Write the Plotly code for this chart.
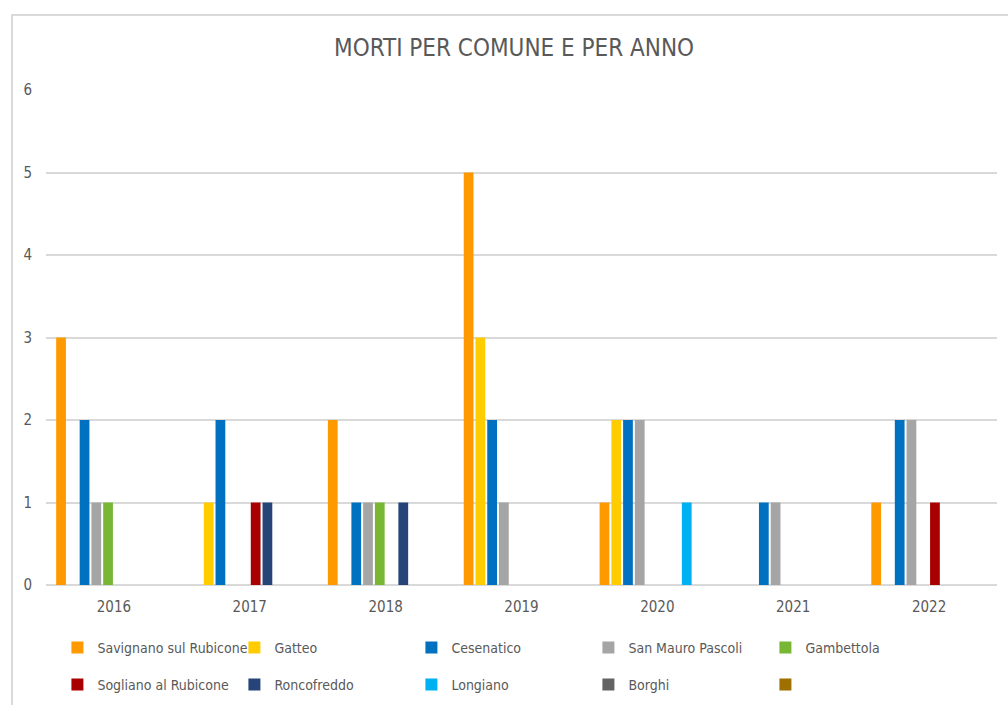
import plotly.graph_objects as go

# Deaths per municipality and per year
years = ["2016", "2017", "2018", "2019", "2020", "2021", "2022"]

savignano = [3, 0, 2, 5, 1, 0, 1]
gatteo = [0, 1, 0, 3, 2, 0, 0]
cesenatico = [2, 2, 1, 2, 2, 1, 2]
san_mauro = [1, 0, 1, 1, 2, 1, 2]
gambettola = [1, 0, 1, 0, 0, 0, 0]
sogliano = [0, 1, 0, 0, 0, 0, 1]
roncofreddo = [0, 1, 1, 0, 0, 0, 0]
longiano = [0, 0, 0, 0, 1, 0, 0]
borghi = [0, 0, 0, 0, 0, 0, 0]
senza_nome = [0, 0, 0, 0, 0, 0, 0]

series = [
    ("Savignano sul Rubicone", savignano, "#FF9900", "legend"),
    ("Gatteo", gatteo, "#FFCC00", "legend"),
    ("Cesenatico", cesenatico, "#0070C0", "legend"),
    ("San Mauro Pascoli", san_mauro, "#A5A5A5", "legend"),
    ("Gambettola", gambettola, "#77B733", "legend"),
    ("Sogliano al Rubicone", sogliano, "#A80000", "legend2"),
    ("Roncofreddo", roncofreddo, "#264478", "legend2"),
    ("Longiano", longiano, "#00B0F0", "legend2"),
    ("Borghi", borghi, "#636363", "legend2"),
    (" ", senza_nome, "#9E7000", "legend2"),
]

FONT = "Liberation Sans Narrow, DejaVu Sans Condensed, Arial Narrow, sans-serif"
GREY_TEXT = "#595959"
GRID = "#D9D9D9"

fig = go.Figure()
for name, vals, color, leg in series:
    fig.add_trace(go.Bar(
        x=years, y=vals, name=name,
        marker=dict(color=color, line=dict(width=0)),
        legend=leg,
    ))

legend_common = dict(
    orientation="h",
    xanchor="left",
    yanchor="middle",
    yref="container",
    x=0.012,
    entrywidth=132,
    entrywidthmode="pixels",
    font=dict(family=FONT, size=14, color=GREY_TEXT),
    bgcolor="rgba(0,0,0,0)",
    traceorder="normal",
)

fig.update_layout(
    width=1008,
    height=705,
    margin=dict(l=46, r=11, t=90, b=120, autoexpand=False),
    paper_bgcolor="white",
    plot_bgcolor="white",
    barmode="group",
    bargap=0.135,
    bargroupgap=0.17,
    title=dict(
        text="MORTI PER COMUNE E PER ANNO",
        x=0.51, xanchor="center",
        y=0.932, yanchor="middle",
        font=dict(family=FONT, size=24, color=GREY_TEXT),
    ),
    font=dict(family=FONT, color=GREY_TEXT),
    legend=dict(legend_common, y=1 - 648 / 705),
    legend2=dict(legend_common, y=1 - 685 / 705),
    xaxis=dict(
        showgrid=False,
        showline=False,
        ticks="",
        tickfont=dict(family=FONT, size=15, color=GREY_TEXT),
        ticklabelstandoff=11,
    ),
    yaxis=dict(
        range=[0, 6],
        dtick=1,
        showgrid=True,
        gridcolor=GRID,
        gridwidth=1.5,
        zeroline=True,
        zerolinecolor=GRID,
        zerolinewidth=1.5,
        showline=False,
        ticks="",
        tickfont=dict(family=FONT, size=15, color=GREY_TEXT),
        ticklabelstandoff=13,
    ),
    shapes=[
        dict(
            type="rect", xref="paper", yref="paper",
            x0=-0.0357, x1=1.05, y0=-0.26, y1=1.1515,
            line=dict(color="#D9D9D9", width=2),
            fillcolor="rgba(0,0,0,0)",
            layer="below",
        )
    ],
)

fig.write_html("out.html")
